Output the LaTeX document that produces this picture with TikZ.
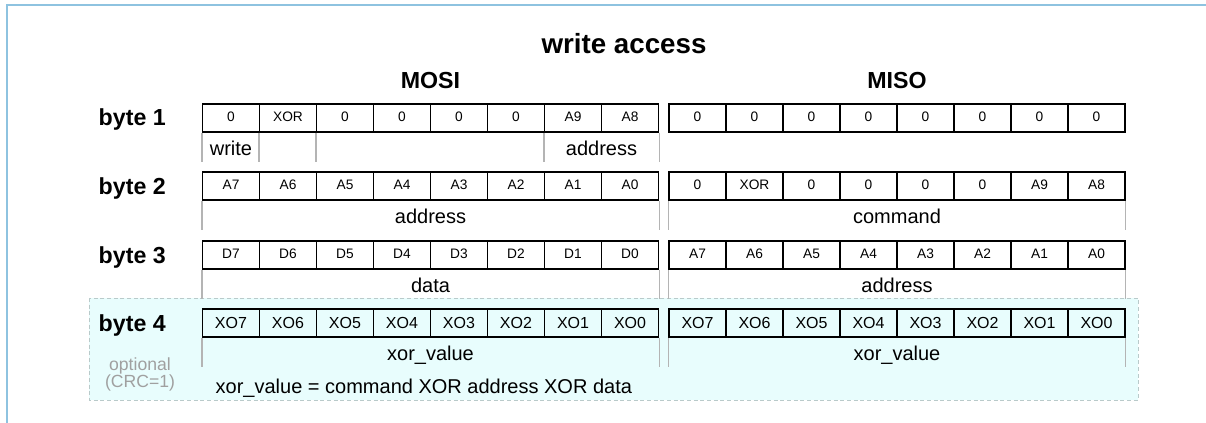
\documentclass[tikz,border=0pt]{standalone}
\usepackage{fontspec}
\setmainfont{Liberation Sans}
\usetikzlibrary{positioning}
\definecolor{framecol}{HTML}{8EC3E0}
\definecolor{optfill}{HTML}{E8FDFD}
\definecolor{optline}{HTML}{B9CACA}
\definecolor{sepgray}{HTML}{B4B4B4}
\definecolor{notegray}{HTML}{A0A0A0}

\begin{document}
\begin{tikzpicture}[x=0.75pt,y=-0.75pt,
    bitcell/.style={draw,line width=0.8pt,minimum width=42.75pt,minimum height=21pt,inner sep=0pt,
      text height=7pt,text depth=1pt,font=\fontsize{10.3}{12}\selectfont},
    xocell/.style={bitcell,text height=8.5pt,text depth=0.5pt,font=\fontsize{12}{14}\selectfont},
    rowlabel/.style={anchor=base east,font=\fontsize{17.4}{20}\selectfont\bfseries},
    fieldlabel/.style={anchor=base,font=\fontsize{15}{18}\selectfont},
    heading/.style={anchor=base,font=\fontsize{17.4}{20}\selectfont\bfseries},
    note/.style={anchor=base,text=notegray,font=\fontsize{13.2}{15}\selectfont},
    sepline/.style={draw=sepgray,line width=0.8pt}]
    \useasboundingbox (0,0) rectangle (1206,423);
    % Frame and optional area
    \draw[framecol,line width=1.5pt] (1206,5.5) -- (6.5,5.5) -- (6.5,423);
    \filldraw[fill=optfill,draw=optline,dash pattern=on 3pt off 2pt,line width=0.6pt] (89,298) rectangle (1138,400);
    % Headings
    \node[heading,font=\fontsize{20.8}{24}\selectfont\bfseries] (title) at (624,54) {write access};
    \node[heading] (mosihead) at (430.5,88.5) {MOSI};
    \node[heading] (misohead) at (897,89) {MISO};
    % Row labels
    \node[rowlabel] (byte1) at (170.5,126) {byte 1};
    \node[rowlabel] (byte2) at (170.5,194.5) {byte 2};
    \node[rowlabel] (byte3) at (170.5,263.5) {byte 3};
    \node[rowlabel] (byte4) at (170.5,331.5) {byte 4};
    \node[note] (opt) at (140,370.5) {optional};
    \node[note] (crc) at (140,388) {(CRC=1)};
    % Byte 1
    \foreach \t [count=\i from 0] in {0,XOR,0,0,0,0,A9,A8}
        \node[bitcell] (r1m\i) at (231+57*\i,118) {\t};
    \foreach \t [count=\i from 0] in {0,0,0,0,0,0,0,0}
        \node[bitcell] (r1s\i) at (697.5+57*\i,118) {\t};
    \foreach \c in {r1m0.south west,r1m1.south west,r1m2.south west,r1m6.south west,r1m7.south east}
        \draw[sepline] (\c) -- ++(0,29);
    \node[fieldlabel] (lwrite) at (231,156) {write};
    \node[fieldlabel] (laddr1) at (601.5,156) {address};
    % Byte 2
    \foreach \t [count=\i from 0] in {A7,A6,A5,A4,A3,A2,A1,A0}
        \node[bitcell] (r2m\i) at (231+57*\i,186) {\t};
    \foreach \t [count=\i from 0] in {0,XOR,0,0,0,0,A9,A8}
        \node[bitcell] (r2s\i) at (697.5+57*\i,186) {\t};
    \foreach \c in {r2m0.south west,r2m7.south east,r2s0.south west,r2s7.south east}
        \draw[sepline] (\c) -- ++(0,29);
    \node[fieldlabel] (laddr2) at (430.5,224) {address};
    \node[fieldlabel] (lcmd) at (897,224) {command};
    % Byte 3
    \foreach \t [count=\i from 0] in {D7,D6,D5,D4,D3,D2,D1,D0}
        \node[bitcell] (r3m\i) at (231+57*\i,255) {\t};
    \foreach \t [count=\i from 0] in {A7,A6,A5,A4,A3,A2,A1,A0}
        \node[bitcell] (r3s\i) at (697.5+57*\i,255) {\t};
    \foreach \c in {r3m0.south west,r3m7.south east,r3s0.south west,r3s7.south east}
        \draw[sepline] (\c) -- ++(0,29);
    \node[fieldlabel] (ldata) at (430.5,293) {data};
    \node[fieldlabel] (laddr3) at (897,293) {address};
    % Byte 4 (xor)
    \foreach \t [count=\i from 0] in {XO7,XO6,XO5,XO4,XO3,XO2,XO1,XO0} {
        \node[xocell] (r4m\i) at (231+57*\i,323) {\t};
        \node[xocell] (r4s\i) at (697.5+57*\i,323) {\t};
    }
    \foreach \c in {r4m0.south west,r4m7.south east,r4s0.south west,r4s7.south east}
        \draw[sepline] (\c) -- ++(0,29);
    \node[fieldlabel] (lxor1) at (430.5,361) {xor\_value};
    \node[fieldlabel] (lxor2) at (897,361) {xor\_value};
    \node[fieldlabel,anchor=base west] (xornote) at (211,394) {xor\_value = command XOR address XOR data};
\end{tikzpicture}
\end{document}
